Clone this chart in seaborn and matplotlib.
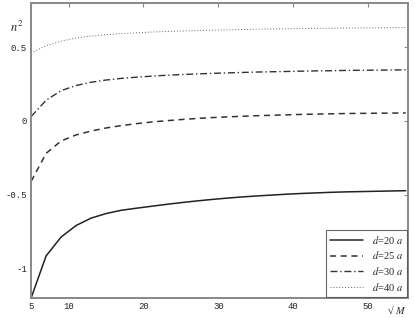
import numpy as np
import pandas as pd
import seaborn as sns
import matplotlib.pyplot as plt

# sqrt(M) values
sqrt_m = [5, 7, 9, 11, 13, 15, 17, 19, 21, 23, 25, 27, 29, 31, 33, 35, 37,
          39, 41, 43, 45, 47, 49, 51, 53, 55]

# n^2 for each separation d
n2_d20 = [-1.20, -0.915, -0.787, -0.709, -0.659, -0.628, -0.606, -0.592, -0.579,
          -0.566, -0.554, -0.543, -0.533, -0.524, -0.516, -0.509, -0.503, -0.497,
          -0.492, -0.488, -0.484, -0.481, -0.479, -0.477, -0.475, -0.473]
n2_d25 = [-0.41, -0.22, -0.136, -0.095, -0.069, -0.048, -0.032, -0.019, -0.008,
          0.001, 0.009, 0.016, 0.022, 0.027, 0.031, 0.035, 0.038, 0.041, 0.044,
          0.046, 0.048, 0.050, 0.051, 0.052, 0.053, 0.054]
n2_d30 = [0.03, 0.14, 0.205, 0.24, 0.262, 0.277, 0.288, 0.296, 0.303, 0.309,
          0.314, 0.318, 0.322, 0.325, 0.328, 0.331, 0.333, 0.335, 0.337, 0.339,
          0.340, 0.342, 0.343, 0.344, 0.345, 0.346]
n2_d40 = [0.46, 0.51, 0.54, 0.562, 0.575, 0.584, 0.591, 0.597, 0.602, 0.606,
          0.609, 0.612, 0.615, 0.617, 0.619, 0.621, 0.623, 0.624, 0.626, 0.627,
          0.628, 0.629, 0.630, 0.631, 0.632, 0.633]

labels = [r'$d$=20 $a$', r'$d$=25 $a$', r'$d$=30 $a$', r'$d$=40 $a$']
x_ticks = [5, 10, 20, 30, 40, 50]
y_ticks = [-1, -0.5, 0, 0.5]
y_ticklabels = ['-1', '-0.5', '0', '0.5']

sns.set_style("white")
plt.rcParams['mathtext.fontset'] = 'stix'

fig = plt.figure(figsize=(4.15, 3.18), dpi=100)
ax = fig.add_axes([0.075, 0.063, 0.908, 0.928])

styles = [
    dict(linestyle='-', lw=1.1, color='#222222'),
    dict(linestyle=(0, (4, 3)), lw=1.1, color='#333333'),
    dict(linestyle=(0, (5, 2, 1, 2)), lw=1.0, color='#333333'),
    dict(linestyle=(0, (1, 2)), lw=0.7, color='#666666'),
]
series = [n2_d20, n2_d25, n2_d30, n2_d40]

for vals, lab, st in zip(series, labels, styles):
    sns.lineplot(x=sqrt_m, y=vals, ax=ax, label=lab, **st)

ax.set_xlim(5, 55.3)
ax.set_ylim(-1.2, 0.8)
ax.set_xticks(x_ticks)
ax.set_xticklabels([str(t) for t in x_ticks], family='Liberation Mono', fontsize=6.5)
ax.set_yticks(y_ticks)
ax.set_yticklabels(y_ticklabels, family='Liberation Mono', fontsize=6.5)
ax.tick_params(direction='in', length=3, width=0.8, color='#888888',
               top=True, right=True, pad=3)
for sp in ax.spines.values():
    sp.set_color('#888888')
    sp.set_linewidth(1.4)
ax.grid(False)

ax.set_xlabel('')
ax.set_ylabel('')
ax.text(-0.022, 0.915, r'$n^2$', transform=ax.transAxes, fontsize=9,
        ha='right', va='center')
ax.text(0.995, -0.042, '\u221a $M$', transform=ax.transAxes, fontsize=7.5,
        family='Liberation Serif', ha='right', va='center')

leg = ax.legend(loc='lower right', frameon=True, fancybox=False,
                prop={'family': 'Liberation Serif', 'size': 7.5},
                handlelength=3.2, borderpad=0.4, labelspacing=0.35,
                borderaxespad=0.1)
leg.get_frame().set_edgecolor('#444444')
leg.get_frame().set_linewidth(0.8)

fig.savefig('out.png', dpi=100)
